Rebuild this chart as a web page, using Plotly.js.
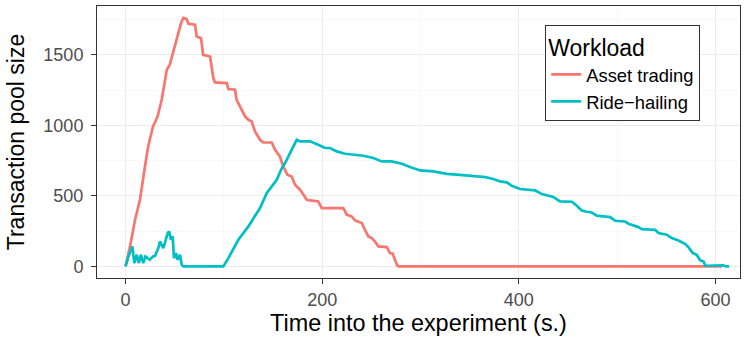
<!DOCTYPE html>
<html>
<head>
<meta charset="utf-8">
<script src="https://cdn.plot.ly/plotly-3.0.1.min.js"></script>
<style>html,body{margin:0;padding:0;background:#fff;}#chart{width:748px;height:341px;}</style>
</head>
<body>
<div id="chart"></div>
<script>
const assetTime = [0,4.6,9.7,14.7,19.8,23,28,32.7,36.8,42,45,50.4,53.7,56.5,58.8,62,64,70.7,72.4,76.8,79,86,89.3,91,103,104.6,111.4,113,121.6,125,128.4,131.7,136.8,140,148.7,152,157,160.5,164.6,169,172.4,177.5,181,184.3,187.7,196,199.6,221.6,225,230,233.5,240.3,243.6,247,250.5,253.8,257.2,265.7,269,271.8,274,276.5,278,400,607];
const assetPool = [0,142,331,473,709,851,993,1064,1182,1395,1430,1560,1655,1726,1762,1755,1721,1714,1631,1619,1501,1489,1336,1305,1300,1258,1253,1182,1064,1040,1028,957,898,879,879,828,780,709,650,638,579,544,508,473,468,461,414,414,367,355,326,308,260,213,201,177,142,137,95,90,47,5,0,0,0];

const rideTime = [0,3,7,9,11.4,13.6,15.6,18,20.3,24.7,28,30,33.4,35,38.5,42.9,44.3,46.3,48,49.3,51.4,53,55.4,57.2,59,99.5,104.6,114.8,125,136.8,143.6,152,153.8,159,162.3,172.4,174.2,177.5,187.7,196,203,208,214.8,223.3,231.7,242,252,260.6,270.8,281,289.4,299.6,313,326.7,340,353.8,365.7,374,381,387.8,392.9,401.3,416.6,423.4,435.2,442,454,459,464,469,474,479.3,493,498,508,511.5,521.7,525,538.7,542,550.5,555.6,562.4,569,572.5,577,581,584.5,588,589.7,608,610.7,614];
const ridePool = [0,71,142,24,83,24,83,24,71,47,71,75,130,177,130,236,248,189,213,59,95,47,83,12,0,0,59,189,284,414,520,603,615,698,733,875,898,887,887,863,840,840,816,799,792,785,769,745,745,728,705,681,674,657,650,643,634,620,603,596,572,549,539,513,492,461,459,430,397,388,383,360,350,324,319,303,279,265,260,237,225,201,184,161,137,95,83,43,35,5,8,0,0];

const seriesNames = ["Asset trading", "Ride\u2212hailing"];
const seriesColors = ["#F8766D", "#00BFC4"];
const xTicks = [0, 200, 400, 600];
const yTicks = [0, 500, 1000, 1500];

const font = "Liberation Sans, Arial, Helvetica, sans-serif";

const traces = [
  {x: assetTime, y: assetPool, name: seriesNames[0], type: "scatter", mode: "lines",
   line: {color: seriesColors[0], width: 2.7, shape: "linear"}},
  {x: rideTime, y: ridePool, name: seriesNames[1], type: "scatter", mode: "lines",
   line: {color: seriesColors[1], width: 2.7, shape: "linear"}}
];

const axisCommon = {
  showline: true, mirror: true, linecolor: "#333333", linewidth: 1,
  ticks: "outside", ticklen: 5, tickcolor: "#333333", tickwidth: 1,
  gridcolor: "#EBEBEB", gridwidth: 1.1, zeroline: false,
  tickfont: {family: font, size: 18, color: "#4D4D4D"}
};

const layout = {
  width: 748, height: 341,
  margin: {l: 97, r: 8, t: 6, b: 63},
  paper_bgcolor: "#FFFFFF", plot_bgcolor: "#FFFFFF",
  font: {family: font, color: "#000000"},
  showlegend: true,
  xaxis: Object.assign({}, axisCommon, {
    range: [-29, 625], tickvals: xTicks, ticktext: xTicks.map(String),
    minor: {tickvals: [100, 300, 500], showgrid: true, gridcolor: "#F4F4F4", gridwidth: 0.6, ticks: ""},
    title: {text: "Time into the experiment (s.)", font: {family: font, size: 23.4, color: "#000"}, standoff: 4}
  }),
  yaxis: Object.assign({}, axisCommon, {
    range: [-82, 1847], tickvals: yTicks, ticktext: yTicks.map(String),
    ticklabelstandoff: 4,
    minor: {tickvals: [250, 750, 1250, 1750], showgrid: true, gridcolor: "#F4F4F4", gridwidth: 0.6, ticks: ""},
    title: {text: "Transaction pool size", font: {family: font, size: 23, color: "#000"}, standoff: 12}
  }),
  legend: {
    x: 0.697, y: 0.93, xanchor: "left", yanchor: "top",
    bgcolor: "#FFFFFF", bordercolor: "#333333", borderwidth: 1,
    font: {family: font, size: 18.4, color: "#000"},
    title: {text: "Workload", font: {family: font, size: 23, color: "#000"}}
  }
};

Plotly.newPlot("chart", traces, layout, {staticPlot: true, displayModeBar: false});
</script>
</body>
</html>
